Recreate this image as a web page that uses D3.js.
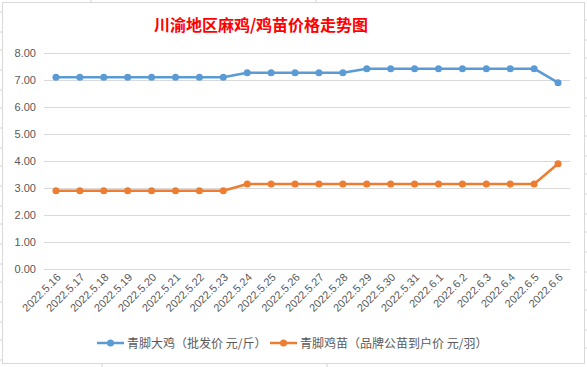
<!DOCTYPE html>
<html>
<head>
<meta charset="utf-8">
<script src="https://cdn.jsdelivr.net/npm/d3@7"></script>
<style>
  body { margin: 0; background: #fff; }
  text { font-family: "Noto Sans CJK SC", "DejaVu Sans", sans-serif; }
</style>
</head>
<body>
<svg id="chart" width="587" height="367"></svg>
<script>
let width = 587;
let height = 367;

let dates = [
  "2022.5.16", "2022.5.17", "2022.5.18", "2022.5.19", "2022.5.20", "2022.5.21",
  "2022.5.22", "2022.5.23", "2022.5.24", "2022.5.25", "2022.5.26", "2022.5.27",
  "2022.5.28", "2022.5.29", "2022.5.30", "2022.5.31", "2022.6.1", "2022.6.2",
  "2022.6.3", "2022.6.4", "2022.6.5", "2022.6.6"
];

let chickenPrice = [
  7.1, 7.1, 7.1, 7.1, 7.1, 7.1, 7.1, 7.1,
  7.27, 7.27, 7.27, 7.27, 7.27,
  7.42, 7.42, 7.42, 7.42, 7.42, 7.42, 7.42, 7.42,
  6.9
];

let chickPrice = [
  2.9, 2.9, 2.9, 2.9, 2.9, 2.9, 2.9, 2.9,
  3.15, 3.15, 3.15, 3.15, 3.15, 3.15, 3.15, 3.15, 3.15, 3.15, 3.15, 3.15, 3.15,
  3.9
];

let seriesNames = ["青脚大鸡（批发价 元/斤）", "青脚鸡苗（品牌公苗到户价 元/羽）"];
let seriesColors = ["#5b9bd5", "#ed7d31"];
let yTicks = [0, 1, 2, 3, 4, 5, 6, 7, 8];

let svg = d3.select("#chart");

// spreadsheet cells peeking out around the chart
let cellLine = "#d4d4d4";
[12, 32, 50, 70, 90, 108, 128, 148, 166, 186, 206, 224, 244, 264, 282, 302, 322, 340, 360].forEach(yy => {
  svg.append("line").attr("x1", 0).attr("x2", 2).attr("y1", yy).attr("y2", yy).attr("stroke", cellLine)
  svg.append("line").attr("x1", 585).attr("x2", 587).attr("y1", yy + 8).attr("y2", yy + 8).attr("stroke", cellLine)
})
;[91, 316].forEach(xx => {
  svg.append("line").attr("x1", xx).attr("x2", xx).attr("y1", 0).attr("y2", 2).attr("stroke", cellLine)
})
;[102, 327].forEach(xx => {
  svg.append("line").attr("x1", xx).attr("x2", xx).attr("y1", 364).attr("y2", 367).attr("stroke", cellLine)
})

// chart frame
svg.append("rect")
  .attr("x", 2.5).attr("y", 2.5)
  .attr("width", 582).attr("height", 361)
  .attr("fill", "#fff")
  .attr("stroke", "#d9d9d9")

let x = d3.scalePoint()
  .domain(dates)
  .range([44, 570])
  .padding(0.5)

let y = d3.scaleLinear()
  .domain([0, 8])
  .range([269, 53])

// title
svg.append("text")
  .attr("x", 261)
  .attr("y", 31)
  .attr("text-anchor", "middle")
  .attr("fill", "#ff0000")
  .style("font-size", "16px")
  .style("font-weight", "bold")
  .text("川渝地区麻鸡/鸡苗价格走势图")

// horizontal gridlines
let yAxis = d3.axisLeft(y)
  .tickValues(yTicks)
  .tickSize(-(570 - 44))
  .tickPadding(8)
  .tickFormat(d3.format(".2f"))

svg.append("g")
  .attr("transform", "translate(44,0)")
  .call(yAxis)
  .call(g => g.select(".domain").remove())
  .call(g => g.selectAll(".tick line").attr("stroke", "#d9d9d9"))
  .call(g => g.selectAll(".tick text")
    .attr("fill", "#595959")
    .style("font-size", "11px")
    .style("font-family", "'Liberation Sans', Arial, sans-serif"))

// x labels, rotated
let xAxis = d3.axisBottom(x).tickSize(0).tickPadding(0)

svg.append("g")
  .attr("transform", "translate(0,269)")
  .call(xAxis)
  .call(g => g.select(".domain").remove())
  .call(g => g.selectAll(".tick text")
    .attr("fill", "#595959")
    .attr("text-anchor", "end")
    .attr("dy", null)
    .attr("transform", "translate(5,9) rotate(-45)")
    .style("font-size", "11px")
    .style("font-family", "'Liberation Sans', Arial, sans-serif"))

let line = d3.line()
  .x((d, i) => x(dates[i]))
  .y(d => y(d))

;[chickenPrice, chickPrice].forEach((values, k) => {
  svg.append("path")
    .datum(values)
    .attr("fill", "none")
    .attr("stroke", seriesColors[k])
    .attr("stroke-width", 2.5)
    .attr("stroke-linejoin", "round")
    .attr("d", line)

  svg.append("g")
    .selectAll("circle")
    .data(values)
    .join("circle")
    .attr("cx", (d, i) => x(dates[i]))
    .attr("cy", d => y(d))
    .attr("r", 3.5)
    .attr("fill", seriesColors[k])
})

// legend
let legendX = [97, 270];
seriesNames.forEach((name, k) => {
  let g = svg.append("g").attr("transform", `translate(${legendX[k]},343)`)
  g.append("line")
    .attr("x1", 0).attr("x2", 27)
    .attr("stroke", seriesColors[k])
    .attr("stroke-width", 2.5)
  g.append("circle")
    .attr("cx", 13.5)
    .attr("r", 3.5)
    .attr("fill", seriesColors[k])
  g.append("text")
    .attr("x", 30)
    .attr("y", 4.5)
    .attr("fill", "#595959")
    .style("font-size", "12px")
    .text(name)
})
</script>
</body>
</html>
